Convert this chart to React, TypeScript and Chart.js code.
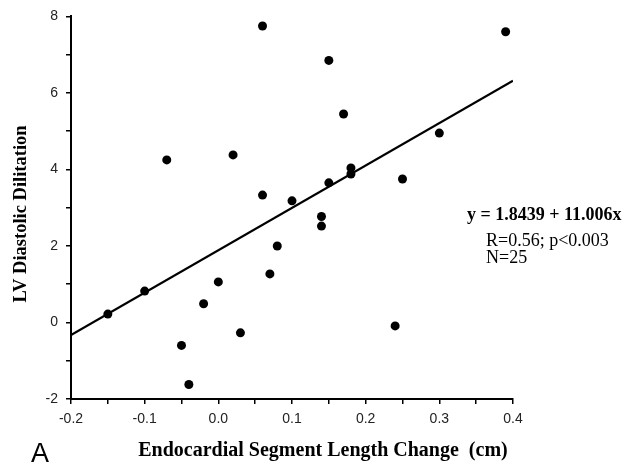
import React, { useEffect, useRef } from "react";
import { Chart, registerables } from "chart.js";

Chart.register(...registerables);

const segmentChange: number[] = [
  -0.15, -0.1, -0.05, -0.04, -0.02, 0.0, 0.03, 0.07, 0.08, -0.07, 0.02, 0.06, 0.06,
  0.1, 0.15, 0.17, 0.39, 0.3, 0.18, 0.18, 0.15, 0.25, 0.14, 0.14, 0.24,
];
const diastolicDilitation: number[] = [
  0.22, 0.82, -0.6, -1.62, 0.49, 1.06, -0.27, 1.27, 2.0, 4.25, 4.38, 7.75, 3.33,
  3.18, 6.85, 5.45, 7.6, 4.95, 4.04, 3.88, 3.65, 3.75, 2.77, 2.52, -0.09,
];
const fitX: number[] = [-0.2, 0.4];
const fitY: number[] = [-0.33, 6.32];

const xTitle = "Endocardial Segment Length Change  (cm)";
const yTitle = "LV Diastolic Dilitation";
const equationText = "y = 1.8439 + 11.006x";
const statLines: string[] = ["R=0.56; p<0.003", "N=25"];
const panelLabel = "A";

const textPlugin = {
  id: "textPlugin",
  afterDraw(chart: any) {
    const ctx = chart.ctx;
    ctx.save();
    ctx.fillStyle = "#000";
    ctx.textBaseline = "alphabetic";
    // x title
    ctx.font = "bold 20px 'Liberation Serif'";
    ctx.textAlign = "center";
    ctx.fillText(xTitle, 323, 456);
    // y title
    ctx.save();
    ctx.translate(26, 214);
    ctx.rotate(-Math.PI / 2);
    ctx.textAlign = "center";
    ctx.font = "bold 18.5px 'Liberation Serif'";
    ctx.fillText(yTitle, 0, 0);
    ctx.restore();
    // equation
    ctx.textAlign = "left";
    ctx.font = "bold 18px 'Liberation Serif'";
    ctx.fillText(equationText, 467, 220);
    ctx.font = "18px 'Liberation Serif'";
    ctx.fillText(statLines[0], 486, 246);
    ctx.fillText(statLines[1], 486, 263);
    // panel label
    ctx.font = "27px 'Liberation Sans'";
    ctx.fillText(panelLabel, 31, 462);
    ctx.restore();
  },
};

export default function App() {
  const ref = useRef<HTMLCanvasElement | null>(null);
  useEffect(() => {
    document.body.style.margin = "0";
    if (!ref.current) return;
    const points = segmentChange.map((x, i) => ({ x, y: diastolicDilitation[i] }));
    const line = fitX.map((x, i) => ({ x, y: fitY[i] }));
    const chart = new Chart(ref.current, {
      type: "scatter",
      data: {
        datasets: [
          {
            type: "line",
            data: line,
            borderColor: "#000",
            borderWidth: 2.2,
            pointRadius: 0,
            fill: false,
          } as any,
          {
            data: points,
            backgroundColor: "#000",
            borderColor: "#000",
            pointRadius: 4.5,
            pointBorderWidth: 0,
          },
        ],
      },
      options: {
        animation: false,
        responsive: false,
        maintainAspectRatio: false,
        layout: { padding: { left: 0, top: 14, right: 114, bottom: 0 } },
        plugins: { legend: { display: false }, tooltip: { enabled: false } },
        scales: {
          x: {
            type: "linear",
            min: -0.2,
            max: 0.4,
            afterFit: (s: any) => {
              s.height = 65;
            },
            ticks: {
              stepSize: 0.05,
              autoSkip: false,
              maxRotation: 0,
              padding: 7,
              color: "#222",
              font: { family: "'Liberation Sans'", size: 14 },
              callback: (v: any) => {
                const n = Math.round(Number(v) * 100);
                if (n % 10 !== 0) return "";
                return (n / 100).toFixed(1);
              },
            },
            grid: { drawOnChartArea: false, drawTicks: true, tickLength: 5, color: "#000", lineWidth: 1.5 },
            border: { display: true, color: "#000", width: 2 },
          },
          y: {
            type: "linear",
            min: -2,
            max: 8,
            afterFit: (s: any) => {
              s.width = 71;
            },
            ticks: {
              stepSize: 1,
              autoSkip: false,
              padding: 8,
              color: "#222",
              font: { family: "'Liberation Sans'", size: 14 },
              callback: (v: any) => {
                const n = Math.round(Number(v));
                if (n % 2 !== 0) return "";
                return String(n);
              },
            },
            grid: { drawOnChartArea: false, drawTicks: true, tickLength: 5, color: "#000", lineWidth: 1.5 },
            border: { display: true, color: "#000", width: 2 },
          },
        },
      },
      plugins: [textPlugin],
    });
    return () => chart.destroy();
  }, []);
  return (
    <div style={{ width: 627, height: 464, background: "#fff" }}>
      <canvas ref={ref} width={627} height={464} style={{ display: "block" }} />
    </div>
  );
}
